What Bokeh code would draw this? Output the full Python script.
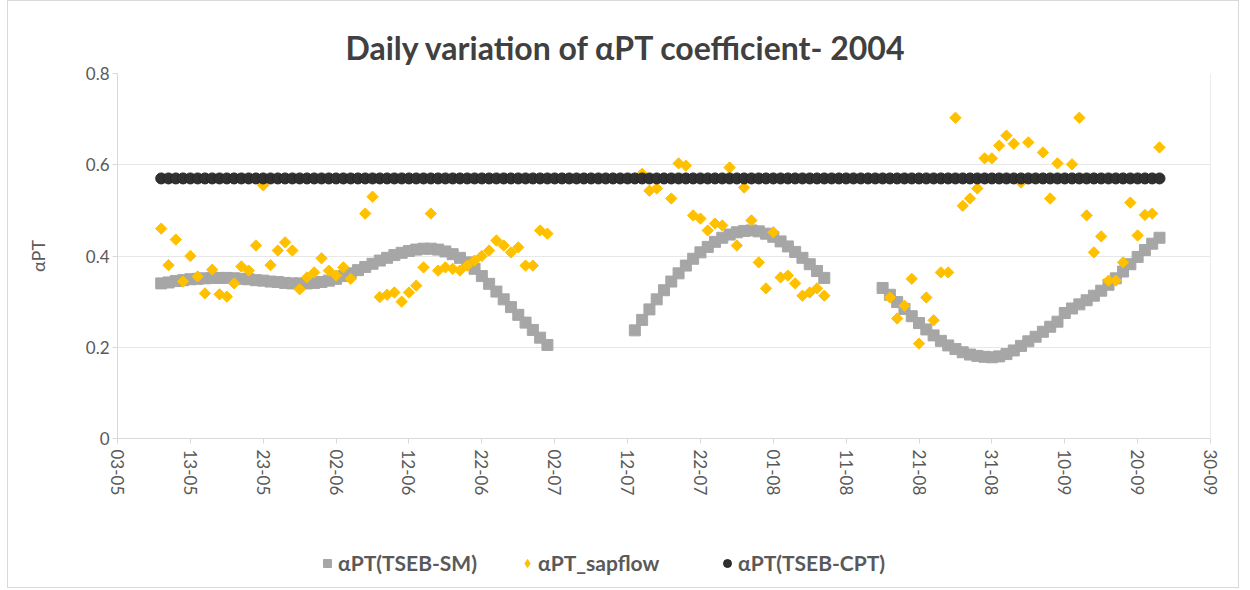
import pandas as pd
from math import pi
from bokeh.plotting import figure
from bokeh.layouts import column
from bokeh.models import (ColumnDataSource, FixedTicker, Legend, LegendItem,
                          Span, NumeralTickFormatter)
from bokeh.embed import file_html
from bokeh.resources import INLINE

TITLE = "Daily variation of \u03b1PT coefficient- 2004"
Y_LABEL = "\u03b1PT"
YEAR = 2004
X_LABELS = ["03-05", "13-05", "23-05", "02-06", "12-06", "22-06", "02-07", "12-07",
            "22-07", "01-08", "11-08", "21-08", "31-08", "10-09", "20-09", "30-09"]
Y_TICKS = [0, 0.2, 0.4, 0.6, 0.8]

SM_NAME = "\u03b1PT(TSEB-SM)"
SAP_NAME = "\u03b1PT_sapflow"
CPT_NAME = "\u03b1PT(TSEB-CPT)"

# alphaPT(TSEB-SM): daily values, three segments (start date, values)
SM_SEG1_START = "2004-05-09"
SM_SEG1 = [0.340, 0.342, 0.345, 0.347, 0.349, 0.350, 0.351, 0.352, 0.352, 0.352,
           0.351, 0.350, 0.349, 0.347, 0.346, 0.344, 0.343, 0.341, 0.340, 0.340,
           0.340, 0.341, 0.343, 0.346, 0.350, 0.356, 0.362, 0.369, 0.376, 0.383,
           0.390, 0.396, 0.402, 0.407, 0.411, 0.414, 0.416, 0.416, 0.414, 0.410,
           0.404, 0.396, 0.386, 0.372, 0.356, 0.339, 0.322, 0.305, 0.288, 0.271,
           0.254, 0.238, 0.221, 0.205]
SM_SEG2_START = "2004-07-13"
SM_SEG2 = [0.237, 0.260, 0.283, 0.305, 0.325, 0.344, 0.362, 0.379, 0.394, 0.408,
           0.420, 0.431, 0.440, 0.447, 0.452, 0.455, 0.456, 0.454, 0.449, 0.442,
           0.432, 0.421, 0.409, 0.396, 0.382, 0.367, 0.352]
SM_SEG3_START = "2004-08-16"
SM_SEG3 = [0.330, 0.315, 0.299, 0.284, 0.268, 0.253, 0.239, 0.226, 0.214, 0.204,
           0.196, 0.189, 0.184, 0.181, 0.179, 0.178, 0.180, 0.185, 0.193, 0.203,
           0.213, 0.223, 0.234, 0.245, 0.256, 0.275, 0.285, 0.294, 0.303, 0.313,
           0.324, 0.337, 0.351, 0.366, 0.382, 0.398, 0.413, 0.427, 0.440]

# alphaPT_sapflow: daily values (None = no value that day)
SAP_SEG1_START = "2004-05-09"
SAP_SEG1 = [0.460, 0.380, 0.436, 0.344, 0.400, 0.355, 0.318, 0.370, 0.316, 0.311,
            0.340, 0.377, 0.368, 0.423, 0.555, 0.380, 0.412, 0.430, 0.412, 0.327,
            0.353, 0.364, 0.395, 0.368, 0.357, 0.375, 0.350, None, 0.493, 0.530,
            0.310, 0.315, 0.320, 0.300, 0.320, 0.335, 0.375, 0.493, 0.368, 0.375,
            0.372, 0.368, 0.379, 0.390, 0.400, 0.412, 0.434, 0.423, 0.408, 0.419,
            0.379, 0.379, 0.456, 0.449]
SAP_SEG2_START = "2004-07-14"
SAP_SEG2 = [0.580, 0.543, 0.548, None, 0.526, 0.603, 0.598, 0.489, 0.482, 0.456,
            0.471, 0.467, 0.594, 0.423, 0.550, 0.478, 0.386, 0.329, 0.452, 0.353,
            0.357, 0.340, 0.313, 0.320, 0.329, 0.313]
SAP_SEG3_START = "2004-08-17"
SAP_SEG3 = [0.309, 0.263, 0.291, 0.350, 0.208, 0.309, 0.259, 0.364, 0.364, 0.703,
            0.510, 0.526, 0.548, 0.614, 0.614, 0.642, 0.664, 0.646, 0.561, 0.649,
            None, 0.627, 0.526, 0.603, None, 0.601, 0.703, 0.489, 0.408, 0.443,
            0.346, 0.346, 0.386, 0.517, 0.445, 0.490, 0.493, 0.638]

# alphaPT(TSEB-CPT): constant daily coefficient
CPT_START = "2004-05-09"
CPT = [0.57, 0.57, 0.57, 0.57, 0.57, 0.57, 0.57, 0.57, 0.57, 0.57, 0.57, 0.57, 0.57,
       0.57, 0.57, 0.57, 0.57, 0.57, 0.57, 0.57, 0.57, 0.57, 0.57,
       0.57, 0.57, 0.57, 0.57, 0.57, 0.57, 0.57, 0.57, 0.57, 0.57, 0.57, 0.57, 0.57,
       0.57, 0.57, 0.57, 0.57, 0.57, 0.57, 0.57, 0.57, 0.57, 0.57,
       0.57, 0.57, 0.57, 0.57, 0.57, 0.57, 0.57, 0.57, 0.57, 0.57, 0.57, 0.57, 0.57,
       0.57, 0.57, 0.57, 0.57, 0.57, 0.57, 0.57, 0.57, 0.57, 0.57,
       0.57, 0.57, 0.57, 0.57, 0.57, 0.57, 0.57, 0.57, 0.57, 0.57, 0.57, 0.57, 0.57,
       0.57, 0.57, 0.57, 0.57, 0.57, 0.57, 0.57, 0.57, 0.57, 0.57,
       0.57, 0.57, 0.57, 0.57, 0.57, 0.57, 0.57, 0.57, 0.57, 0.57, 0.57, 0.57, 0.57,
       0.57, 0.57, 0.57, 0.57, 0.57, 0.57, 0.57, 0.57, 0.57, 0.57,
       0.57, 0.57, 0.57, 0.57, 0.57, 0.57, 0.57, 0.57, 0.57, 0.57, 0.57, 0.57, 0.57,
       0.57, 0.57, 0.57, 0.57, 0.57, 0.57, 0.57, 0.57, 0.57, 0.57]

ORIGIN = pd.Timestamp(f"{YEAR}-05-03")


def day_index(date):
    return (pd.Timestamp(date) - ORIGIN).days


def build(segments):
    xs, ys = [], []
    for start, vals in segments:
        d0 = day_index(start)
        for i, v in enumerate(vals):
            if v is not None:
                xs.append(d0 + i)
                ys.append(v)
    return ColumnDataSource(data=dict(x=xs, y=ys))


sm_src = build([(SM_SEG1_START, SM_SEG1), (SM_SEG2_START, SM_SEG2), (SM_SEG3_START, SM_SEG3)])
sap_src = build([(SAP_SEG1_START, SAP_SEG1), (SAP_SEG2_START, SAP_SEG2), (SAP_SEG3_START, SAP_SEG3)])
cpt_src = build([(CPT_START, CPT)])

tick_pos = [day_index(f"{YEAR}-{lab[3:5]}-{lab[0:2]}") for lab in X_LABELS]

FONT = "Lato"
TXT = "#595959"
LINE = "#d9d9d9"
C_SM, C_SAP, C_CPT = "#a6a6a6", "#ffc000", "#303030"

p = figure(width=1230, height=520, x_range=(tick_pos[0], tick_pos[-1]),
           y_range=(Y_TICKS[0], Y_TICKS[-1]), output_backend="svg",
           toolbar_location=None, min_border_left=109, min_border_right=28,
           min_border_top=72, min_border_bottom=83)
p.outline_line_color = None
p.background_fill_color = "white"

# title
p.title.text = TITLE
p.title.align = "left"
p.title.offset = 228
p.title.text_font = FONT
p.title.text_font_size = "32px"
p.title.text_font_style = "bold"
p.title.text_color = "#404040"
p.title.standoff = 13

# axes
p.xaxis.ticker = FixedTicker(ticks=tick_pos, minor_ticks=[])
p.xaxis.major_label_overrides = {t: lab for t, lab in zip(tick_pos, X_LABELS)}
p.xaxis.major_label_orientation = "vertical"
p.yaxis.ticker = FixedTicker(ticks=Y_TICKS, minor_ticks=[])
p.yaxis.formatter = NumeralTickFormatter(format="0.[0]")
for ax in (p.xaxis, p.yaxis):
    ax.axis_line_color = LINE
    ax.major_tick_line_color = LINE
    ax.major_tick_out = 5
    ax.major_tick_in = 0
    ax.minor_tick_line_color = None
    ax.major_label_text_font = FONT
    ax.major_label_text_font_size = "17px"
    ax.major_label_text_color = TXT
p.xaxis.major_label_standoff = 6
p.yaxis.major_label_standoff = 3
p.yaxis.axis_label = Y_LABEL
p.yaxis.axis_label_text_font = FONT
p.yaxis.axis_label_text_font_size = "18px"
p.yaxis.axis_label_text_font_style = "normal"
p.yaxis.axis_label_text_color = TXT
p.yaxis.axis_label_standoff = 34

p.xgrid.grid_line_color = None
p.ygrid.grid_line_color = "#e8e8e8"

p.add_layout(Span(location=tick_pos[-1], dimension="height", line_color=LINE, line_width=1))

p.scatter("x", "y", source=sm_src, marker="square", size=11,
          fill_color=C_SM, line_color=C_SM)
p.scatter("x", "y", source=sap_src, marker="square", angle=pi / 4, size=8,
          fill_color=C_SAP, line_color=C_SAP)
p.scatter("x", "y", source=cpt_src, marker="circle", size=11,
          fill_color=C_CPT, line_color="#262626")

# legend strip below the chart: key renderers sit outside the visible range
lf = figure(width=1230, height=66, x_range=(0, 1), y_range=(0, 1), output_backend="svg",
            toolbar_location=None, min_border_left=0, min_border_right=0,
            min_border_top=0, min_border_bottom=0)
lf.axis.visible = False
lf.grid.grid_line_color = None
lf.outline_line_color = None
key_src = ColumnDataSource(data=dict(x=[-5], y=[-5]))
k_sm = lf.scatter("x", "y", source=key_src, marker="square",
                  fill_color=C_SM, line_color=C_SM)
k_sap = lf.scatter("x", "y", source=key_src, marker="diamond",
                   fill_color=C_SAP, line_color=C_SAP)
k_cpt = lf.scatter("x", "y", source=key_src, marker="circle",
                   fill_color=C_CPT, line_color="#262626")
legend = Legend(items=[LegendItem(label=SM_NAME, renderers=[k_sm]),
                       LegendItem(label=SAP_NAME, renderers=[k_sap]),
                       LegendItem(label=CPT_NAME, renderers=[k_cpt])],
                orientation="horizontal", location=(200, 12),
                glyph_width=20, glyph_height=20, spacing=37, padding=0, margin=0,
                label_standoff=1, label_width=142, border_line_color=None,
                background_fill_alpha=0,
                label_text_font=FONT, label_text_font_size="21px",
                label_text_font_style="bold", label_text_color=TXT)
lf.add_layout(legend)

page = column(p, lf, spacing=0,
              styles={"border": "1px solid #d9d9d9", "margin-left": "7px"})

open("out.html", "w").write(file_html(page, INLINE))
